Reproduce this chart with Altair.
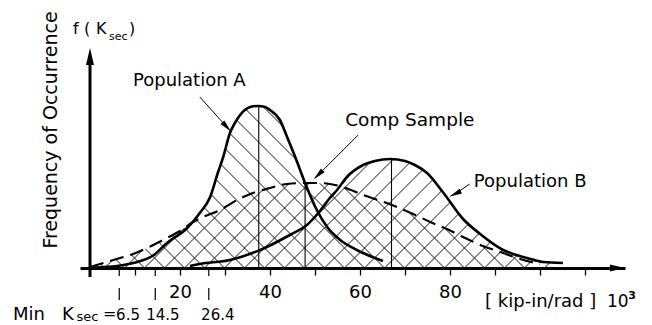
import altair as alt
import numpy as np
import pandas as pd

# ---------------- data ----------------
# x: K_sec in [kip-in/rad] x 10^3, y: frequency of occurrence (relative units)
a_x = [1.0, 6.0, 9.6, 14.2, 17.1, 21.6, 24.4, 26.7, 28.4, 29.6, 31.1, 32.2, 34.4, 35.6,
       37.3, 38.9, 40.0, 42.2, 43.8, 45.6, 47.8, 50.4, 52.7, 55.6, 59.3, 65.1]
a_y = [0.5, 2, 5, 13, 25, 40, 55, 71, 95, 111, 135, 145, 158, 161,
       162, 161, 158, 148, 131, 111, 85, 58, 41, 28, 18, 7]

b_x = [22.2, 24.4, 31.1, 37.8, 44.4, 48.2, 51.1, 53.3, 54.9, 57.1, 60.7, 63.3, 66.7,
       70.0, 72.2, 74.9, 78.4, 82.9, 86.7, 91.8, 97.1, 100.7, 105.1]
b_y = [2, 4, 8, 18, 33, 43, 57, 70, 78, 91, 103, 107, 109,
       107, 103, 95, 76, 49, 34, 18, 10, 6, 5]

c_x = [0, 3.8, 6.7, 9.6, 12.7, 16.2, 20.0, 22.9, 25.1, 28.9, 32.7, 36.2, 40.0, 43.8,
       47.3, 50.4, 53.3, 56.2, 60.7, 67.1, 71.8, 75.6, 79.3, 82.9, 87.3, 91.8, 95.6, 100.0]
c_y = [1, 6, 10, 14, 20, 28, 37, 46, 51, 58, 68, 75, 80, 84,
       85, 85, 84, 81, 73, 63, 54, 46, 39, 31, 22, 15, 9, 4]

mean_x = [37.5, 47.8, 67.0]
mean_y = [162, 85, 109]

min_k = [6.5, 14.5, 26.4]
min_labels = ["6.5", "14.5", "26.4"]

tick_values = [10, 20, 30, 40, 50, 60, 70, 80, 90, 100, 110]

# ---------------- layout ----------------
X_DOMAIN = [-2.2222, 118.8889]   # 545 px -> 4.5 px per unit
Y_DOMAIN = [0, 228]
PX_PER_X = 4.5
FONT = "DejaVu Sans"

xs = alt.Scale(domain=X_DOMAIN, nice=False, zero=False)
ys = alt.Scale(domain=Y_DOMAIN, nice=False, zero=False)
xaxis = alt.Axis(values=tick_values,
                 labelExpr="(datum.value % 20 == 0 && datum.value <= 80) ? datum.label : ''",
                 tickSize=7, tickWidth=1.3, tickColor="black",
                 domainColor="black", domainWidth=3,
                 labelFont=FONT, labelFontSize=18, labelColor="black",
                 labelBaseline="alphabetic", labelPadding=22, labelOverlap=False,
                 grid=False)


def X(f="x"):
    return alt.X(f"{f}:Q", scale=xs, axis=xaxis, title=None)


def Y(f="y"):
    return alt.Y(f"{f}:Q", scale=ys, axis=None)


# ---------------- hatching (derived from the curves) ----------------
def region(xv, cx1, cy1, cx2, cy2):
    return np.maximum(np.interp(xv, cx1, cy1, left=0, right=0),
                      np.interp(xv, cx2, cy2, left=0, right=0))


def hatch(cx1, cy1, cx2, cy2, direction, spacing_px=20.0, offset=0.0):
    rows = []
    yy = np.arange(0, 230, 0.2)
    sp = spacing_px / PX_PER_X
    for xc in np.arange(-60 + offset, 180, sp):
        xv = xc + direction * yy / PX_PER_X
        h = region(xv, cx1, cy1, cx2, cy2)
        inside = (yy <= h) & (h > 0)
        if not inside.any():
            continue
        d = np.diff(np.concatenate([[0], inside.astype(int), [0]]))
        starts = np.where(d == 1)[0]
        ends = np.where(d == -1)[0] - 1
        for s, e in zip(starts, ends):
            if e - s < 2:
                continue
            rows.append({"x": xv[s], "y": yy[s], "x2": xv[e], "y2": yy[e]})
    return rows


hatch_rows = hatch(a_x, a_y, c_x, c_y, -1, offset=1.0) + hatch(b_x, b_y, c_x, c_y, 1, offset=1.0)
hatch_df = pd.DataFrame(hatch_rows)

hatch_layer = alt.Chart(hatch_df).mark_rule(color="#111111", strokeWidth=1).encode(
    x=X(), y=Y(), x2="x2:Q", y2="y2:Q")

means_df = pd.DataFrame({"x": mean_x, "y": [0, 0, 0], "y2": mean_y})
means_layer = alt.Chart(means_df).mark_rule(color="black", strokeWidth=1.1).encode(
    x=X(), y=Y(), y2="y2:Q")

a_df = pd.DataFrame({"x": a_x, "y": a_y})
b_df = pd.DataFrame({"x": b_x, "y": b_y})
c_df = pd.DataFrame({"x": c_x, "y": c_y})

a_line = alt.Chart(a_df).mark_line(color="black", strokeWidth=2.6, interpolate="monotone").encode(x=X(), y=Y())
b_line = alt.Chart(b_df).mark_line(color="black", strokeWidth=2.6, interpolate="monotone").encode(x=X(), y=Y())
c_line = alt.Chart(c_df).mark_line(color="black", strokeWidth=2.1, strokeDash=[14, 7],
                                   interpolate="monotone").encode(x=X(), y=Y())

# y axis line and arrows
yaxis_df = pd.DataFrame({"x": [0], "y": [-9], "y2": [206]})
yaxis_layer = alt.Chart(yaxis_df).mark_rule(color="black", strokeWidth=3).encode(
    x=X(), y=Y(), y2="y2:Q")

ARROW = "M0,-1L0.47,1L-0.47,1Z"
axis_arrows_df = pd.DataFrame({"x": [0, 117.2], "y": [211.5, 0], "ang": [0, 90], "s": [289, 225]})
axis_arrows = alt.Chart(axis_arrows_df).mark_point(shape=ARROW, filled=True, color="black",
                                                   opacity=1, strokeWidth=0).encode(
    x=X(), y=Y(), angle=alt.Angle("ang:Q", scale=None), size=alt.Size("s:Q", scale=None))

# Min K_sec marker lines below axis
min_df = pd.DataFrame({"x": min_k, "y": [0, 0, 0], "y2": [-32, -32, -32]})
min_layer = alt.Chart(min_df).mark_rule(color="black", strokeWidth=1.2, strokeDash=[8, 12, 12, 40]).encode(
    x=X(), y=Y(), y2="y2:Q")

# pointer lines and arrowheads
ptr_df = pd.DataFrame({"x": [24.4, 59.6, 84.4], "y": [171, 133, 84],
                       "x2": [30.4, 50.7, 81.1], "y2": [141, 93, 74]})
ptr_layer = alt.Chart(ptr_df).mark_rule(color="black", strokeWidth=1).encode(
    x=X(), y=Y(), x2="x2:Q", y2="y2:Q")
ptr_head_df = pd.DataFrame({"x": [30.4, 50.7, 81.1], "y": [141, 93, 74], "ang": [138, 225, 244]})
ptr_heads = alt.Chart(ptr_head_df).mark_point(shape="M0,-1L0.4,1L-0.4,1Z", filled=True, color="black",
                                              opacity=1, strokeWidth=0, size=170).encode(
    x=X(), y=Y(), angle=alt.Angle("ang:Q", scale=None))

# texts (left aligned)
txt_df = pd.DataFrame({
    "x": [9.56, 56.7, 85.3, -3.78, -1.33, 1.33, 4.22, 8.67, -17.11, -6.22, -3.0, 2.9, 87.8, 114.9],
    "y": [182, 142, 81, 234, 234, 234, 228, 234, -52, -52, -53, -51, -39, -39],
    "t": ["Population A", "Comp Sample", "Population B", "f", "(", "K", "sec", ")",
          "Min", "K", "sec", "=", "[ kip-in/rad ]", "10"],
    "s": [18, 18.5, 18, 16, 16, 16, 11, 16, 18, 18, 13, 16, 18, 17],
})
txt_layer = alt.Chart(txt_df).mark_text(align="left", baseline="alphabetic", font=FONT, color="black").encode(
    x=X(), y=Y(), text="t:N", size=alt.Size("s:Q", scale=None))

sup_df = pd.DataFrame({"x": [119.6], "y": [-31], "t": ["3"]})
sup_layer = alt.Chart(sup_df).mark_text(align="left", baseline="alphabetic", font=FONT, fontSize=11,
                                        fontWeight="bold", color="black").encode(x=X(), y=Y(), text="t:N")

minlab_df = pd.DataFrame({"x": [8.45, 16.2, 28.4], "y": [-52, -52, -52], "t": min_labels})
minlab_layer = alt.Chart(minlab_df).mark_text(align="center", baseline="alphabetic", font=FONT,
                                              fontSize=15, color="black").encode(x=X(), y=Y(), text="t:N")

ytitle_df = pd.DataFrame({"x": [-7.33], "y": [138], "t": ["Frequency of Occurrence"]})
ytitle_layer = alt.Chart(ytitle_df).mark_text(align="center", baseline="alphabetic", angle=270, font=FONT,
                                              fontSize=19, color="black").encode(x=X(), y=Y(), text="t:N")

chart = alt.layer(
    hatch_layer, means_layer, c_line, a_line, b_line, yaxis_layer, axis_arrows,
    min_layer, ptr_layer, ptr_heads, txt_layer, sup_layer, minlab_layer, ytitle_layer
).properties(
    width=545, height=228,
    padding={"left": 80, "top": 40, "right": 27, "bottom": 57},
    autosize=alt.AutoSizeParams(type="none"),
    background="white",
).configure_view(stroke=None)

chart.save("out.html", embed_options={"renderer": "svg", "actions": False})
